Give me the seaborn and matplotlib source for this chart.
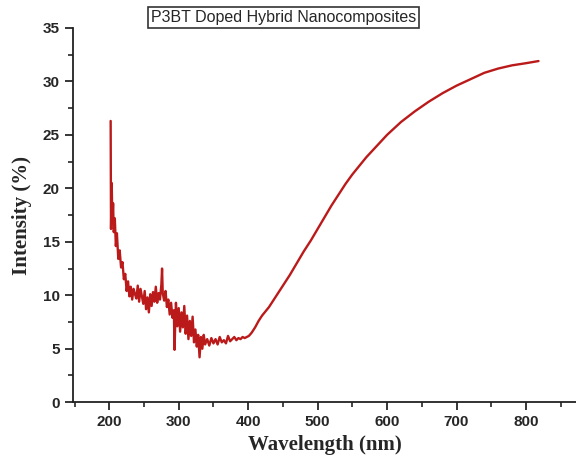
import seaborn as sns
import matplotlib.pyplot as plt
from matplotlib.ticker import MultipleLocator

# valores lidos do gráfico original
# parte ruidosa (200-395 nm)
wl_noisy = [202, 202.5, 203.5, 204.5, 205.5, 206.5, 208, 209.5, 211, 213, 215, 217,
            219, 221, 223, 225, 227, 229, 231, 233, 235, 237, 239, 241, 243, 245,
            247, 249, 251, 253, 255, 257, 259, 261, 263, 265, 267, 269, 271, 273,
            275, 276, 277, 279, 281, 283, 285, 287, 289, 291, 293, 294, 295, 296,
            298, 300, 302, 304, 306, 308, 310, 312, 314, 316, 318, 320, 322, 324,
            326, 328, 330, 332, 334, 336, 338, 341, 344, 347, 350, 353, 356, 359,
            362, 365, 368, 371, 374, 377, 380, 383, 386, 389, 392, 395]
int_noisy = [26.3, 16.2, 20.5, 16.8, 18.6, 15.9, 17.2, 14.6, 15.8, 13.4, 14.2, 12.6,
             13.1, 11.5, 12.0, 10.4, 11.3, 9.9, 10.8, 9.6, 10.6, 10.1, 9.7, 10.9, 9.4,
             10.6, 9.9, 9.2, 10.4, 8.7, 9.8, 8.4, 10.1, 9.0, 10.3, 9.4, 10.8, 9.3, 10.2,
             9.6, 11.0, 12.5, 10.2, 9.5, 10.4, 8.9, 9.6, 8.2, 9.3, 7.9, 8.6, 4.9, 7.4,
             9.3, 7.1, 8.8, 6.6, 8.4, 7.0, 9.0, 6.4, 8.1, 5.9, 7.6, 6.2, 8.0, 5.6, 6.8,
             5.2, 6.3, 4.2, 6.1, 5.0, 6.3, 5.4, 5.9, 5.3, 6.0, 5.5, 5.9, 5.4, 6.1, 5.6,
             5.8, 5.5, 6.2, 5.7, 5.9, 6.1, 5.8, 6.0, 5.9, 6.1, 6.0]
# parte crescente (398-818 nm)
wl_rise = [398, 401, 405, 410, 415, 420, 430, 440, 450, 460, 470, 480, 490, 500,
           510, 520, 530, 540, 550, 560, 570, 580, 590, 600, 620, 640, 660, 680,
           700, 720, 740, 760, 780, 800, 818]
int_rise = [6.1, 6.2, 6.5, 7.0, 7.6, 8.1, 8.9, 9.9, 10.9, 11.9, 13.0, 14.1, 15.1, 16.2,
            17.3, 18.4, 19.4, 20.4, 21.3, 22.1, 22.9, 23.6, 24.3, 25.0, 26.2, 27.2,
            28.1, 28.9, 29.6, 30.2, 30.8, 31.2, 31.5, 31.7, 31.9]

wavelength = wl_noisy + wl_rise
intensity = int_noisy + int_rise

sns.set_style("ticks")
plt.rcParams["font.family"] = ["Liberation Sans", "DejaVu Sans"]

fig = plt.figure(figsize=(5.76, 4.65), dpi=100)
ax = fig.add_axes([0.127, 0.135, 0.873, 0.805])

sns.lineplot(x=wavelength, y=intensity, ax=ax, color="#bb1a1a", linewidth=1.7,
             estimator=None, sort=False)

ax.set_xlim(148, 872)
ax.set_ylim(0, 35)
ax.xaxis.set_major_locator(MultipleLocator(100))
ax.xaxis.set_minor_locator(MultipleLocator(50))
ax.yaxis.set_major_locator(MultipleLocator(5))
ax.yaxis.set_minor_locator(MultipleLocator(2.5))
ax.tick_params(which="major", length=6, width=1.3, labelsize=11, direction="out")
ax.tick_params(which="minor", length=3.5, width=1.2, direction="out")
for lab in ax.get_xticklabels() + ax.get_yticklabels():
    lab.set_fontweight("bold")

for s in ["left", "bottom"]:
    ax.spines[s].set_linewidth(1.3)
    ax.spines[s].set_color("#222222")
ax.spines["top"].set_visible(False)
ax.spines["right"].set_visible(False)

ax.set_xlabel("Wavelength (nm)", fontsize=15, fontweight="bold",
              family="Liberation Serif", labelpad=4)
ax.set_ylabel("Intensity (%)", fontsize=15, fontweight="bold",
              family="Liberation Serif", labelpad=8)

fig.text(0.492, 0.963, "P3BT Doped Hybrid Nanocomposites", ha="center", va="center",
         fontsize=11.5,
         bbox=dict(boxstyle="square,pad=0.2", facecolor="white", edgecolor="#333333",
                   linewidth=1.2))

fig.savefig("out.png", dpi=100)
